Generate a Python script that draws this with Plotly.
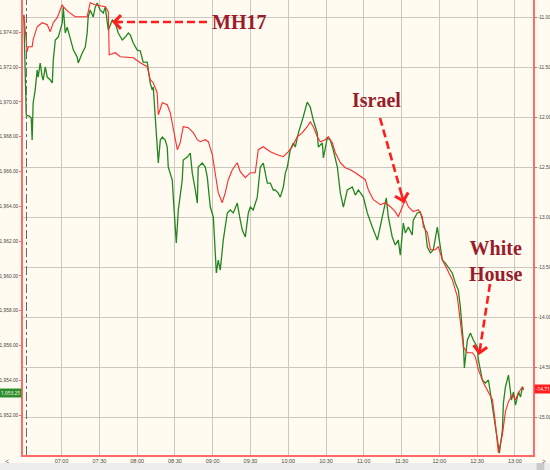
import pandas as pd
import plotly.graph_objects as go

# ---------------- data (minutes after 06:30, values) ----------------
green_minutes = [0, 1.9, 4.3, 5.9, 6.6, 7.4, 9.0, 10.6, 11.4, 13.0, 14.6, 15.4, 17.0, 18.6, 21.0, 22.6, 23.4, 25.0, 27.3, 28.9,
                 30.5, 31.3, 32.9, 34.4, 37.0, 39.4, 42.4, 43.2, 46.4, 48.8, 50.3, 51.1, 52.7, 55.1, 56.7, 58.3, 60.7, 63.1, 64.7, 66.3,
                 67.1, 70.3, 72.6, 75.0, 78.2, 80.6, 83.0, 84.6, 86.9, 90.1, 92.5, 94.8, 98.0, 100.4, 102.0, 102.8, 104.4, 106.8, 108.4, 110.0,
                 112.3, 113.9, 114.7, 116.3, 117.9, 118.7, 121.1, 122.7, 125.8, 126.6, 129.8, 132.2, 133.8, 136.2, 137.8, 138.5, 141.7, 144.1, 145.7, 148.1,
                 150.5, 152.9, 154.4, 156.0, 158.4, 161.6, 164.0, 166.4, 169.5, 171.9, 173.5, 175.9, 178.3, 179.9, 182.2, 185.4, 187.8, 190.2, 193.4, 195.8,
                 198.1, 199.7, 202.1, 203.7, 206.1, 207.7, 209.3, 211.6, 214.0, 215.6, 218.0, 221.2, 223.6, 225.1, 227.5, 229.9, 233.1, 233.9, 237.1, 237.9,
                 241.0, 243.4, 245.8, 249.0, 251.4, 253.8, 256.9, 260.9, 263.3, 265.7, 269.7, 272.8, 276.8, 280.8, 284.7, 287.9, 289.5, 292.6, 295.0, 297.4,
                 299.0, 300.6, 301.4, 303.0, 305.4, 308.5, 309.3, 312.5, 314.9, 317.3, 318.9, 320.5, 322.9, 325.2, 328.4, 330.0, 332.4, 334.8, 337.2, 340.3,
                 342.7, 345.1, 346.7, 348.3, 349.1, 349.9, 352.3, 354.7, 357.0, 360.2, 361.0, 364.2, 366.6, 369.0, 370.6, 373.0, 376.1, 377.7, 380.1, 380.9,
                 382.5, 384.1, 384.9, 387.3, 388.9, 390.5, 392.9, 394.5, 396.0, 396.8]
green_values = [1974.99, 1969.25, 1969.19, 1969.07, 1967.81, 1969.94, 1970.68, 1971.83, 1971.43, 1972.24, 1971.43, 1971.26, 1972.01, 1971.43, 1971.26, 1971.09, 1972.41, 1973.56, 1973.73, 1974.13,
                1974.53, 1975.45, 1973.96, 1974.30, 1973.56, 1972.98, 1972.58, 1972.24, 1972.81, 1973.16, 1973.96, 1974.88, 1975.28, 1974.88, 1975.45, 1975.68, 1975.28, 1975.11, 1975.45, 1974.71,
                1974.13, 1974.71, 1974.53, 1973.96, 1973.56, 1973.73, 1973.96, 1973.84, 1973.39, 1972.98, 1972.93, 1972.29, 1972.29, 1971.09, 1970.68, 1970.86, 1969.13, 1966.49, 1967.81, 1967.98,
                1967.81, 1967.41, 1966.26, 1965.91, 1965.51, 1964.53, 1961.89, 1963.79, 1965.51, 1966.66, 1966.83, 1967.06, 1965.91, 1964.94, 1964.19, 1966.26, 1966.49, 1966.26, 1965.68, 1963.96,
                1963.39, 1960.17, 1960.91, 1960.34, 1962.06, 1963.62, 1963.79, 1963.62, 1964.19, 1963.21, 1962.64, 1962.24, 1963.62, 1963.96, 1963.79, 1964.53, 1966.26, 1966.49, 1965.34, 1965.34,
                1964.94, 1964.94, 1964.76, 1964.53, 1965.11, 1965.91, 1966.26, 1967.24, 1967.64, 1967.41, 1968.21, 1968.96, 1969.53, 1969.99, 1969.71, 1968.96, 1968.21, 1967.41, 1967.64, 1966.78,
                1967.93, 1967.81, 1967.24, 1966.26, 1964.76, 1963.96, 1964.94, 1965.11, 1964.65, 1964.94, 1964.53, 1963.62, 1962.81, 1962.06, 1963.39, 1964.48, 1963.39, 1962.24, 1961.78, 1962.06,
                1961.20, 1962.64, 1963.04, 1962.47, 1962.81, 1962.35, 1963.21, 1963.62, 1963.67, 1963.04, 1962.64, 1961.66, 1961.32, 1961.49, 1962.81, 1962.06, 1960.91, 1960.74, 1960.51, 1960.17,
                1959.59, 1959.19, 1958.21, 1957.06, 1956.14, 1954.71, 1956.32, 1956.72, 1956.32, 1955.91, 1955.17, 1954.02, 1953.85, 1954.02, 1953.27, 1952.01, 1950.45, 1949.82, 1951.14, 1952.70,
                1953.62, 1954.02, 1954.30, 1952.87, 1953.33, 1952.58, 1953.33, 1953.04, 1953.62, 1953.45]

red_minutes = [0, 2.7, 3.5, 6.6, 7.4, 10.6, 14.6, 18.6, 21.0, 23.4, 26.5, 30.5, 31.3, 35.2, 40.8, 50.3, 52.7, 56.7, 64.7, 67.1,
               67.8, 72.6, 76.6, 86.9, 92.5, 98.0, 100.4, 102.8, 105.9, 106.8, 110.0, 113.9, 116.3, 118.7, 121.9, 124.2, 126.6, 130.6, 134.6, 137.8,
               140.1, 144.1, 146.5, 149.7, 152.1, 154.4, 157.6, 160.0, 162.4, 165.6, 169.5, 171.9, 175.9, 179.9, 183.8, 186.2, 190.2, 195.8, 201.3, 206.1,
               210.1, 213.2, 217.2, 221.2, 225.1, 227.5, 229.9, 233.1, 235.5, 239.5, 241.8, 245.0, 247.4, 251.4, 255.3, 259.3, 263.3, 267.3, 271.2, 273.6,
               277.6, 283.2, 287.1, 291.1, 295.0, 297.4, 300.6, 303.0, 305.4, 309.3, 313.3, 316.5, 317.3, 320.5, 322.9, 326.8, 329.2, 332.4, 336.4, 340.3,
               344.3, 346.7, 349.1, 352.3, 356.3, 358.6, 361.0, 365.0, 369.0, 372.2, 374.5, 376.1, 376.9, 380.1, 382.5, 384.9, 388.1, 390.5, 392.9, 396.0,
               396.8]
red_values = [-10.97, -11.34, -11.29, -11.29, -11.22, -11.09, -11.05, -11.07, -11.14, -11.05, -11.00, -10.87, -10.89, -10.94, -10.99, -10.99, -10.85, -10.87, -10.89, -10.94,
              -11.37, -11.35, -11.39, -11.40, -11.45, -11.49, -11.62, -11.65, -11.75, -11.97, -11.85, -11.87, -11.95, -12.12, -12.32, -12.25, -12.09, -12.10, -12.15, -12.22,
              -12.24, -12.22, -12.24, -12.37, -12.55, -12.75, -12.85, -12.75, -12.62, -12.52, -12.45, -12.54, -12.60, -12.55, -12.55, -12.32, -12.29, -12.34, -12.37, -12.39,
              -12.34, -12.29, -12.19, -12.15, -12.09, -12.04, -12.09, -12.19, -12.24, -12.22, -12.19, -12.25, -12.35, -12.45, -12.50, -12.52, -12.55, -12.59, -12.62, -12.72,
              -12.82, -12.87, -12.85, -12.89, -12.94, -12.99, -12.89, -12.82, -12.89, -12.94, -12.92, -12.99, -13.09, -13.15, -13.32, -13.32, -13.29, -13.42, -13.52, -13.62,
              -13.79, -14.02, -14.29, -14.35, -14.35, -14.39, -14.52, -14.65, -14.75, -14.82, -15.05, -15.29, -15.35, -15.17, -14.94, -14.84, -14.77, -14.82, -14.75, -14.69,
              -14.71]

left_ticks = [1952, 1954, 1956, 1958, 1960, 1962, 1964, 1966, 1968, 1970, 1972, 1974]
right_ticks = [-11.0, -11.5, -12.0, -12.5, -13.0, -13.5, -14.0, -14.5, -15.0]
x_tick_labels = ["07:00", "07:30", "08:00", "08:30", "09:00", "09:30", "10:00",
                 "10:30", "11:00", "11:30", "12:00", "12:30", "13:00"]
green_last_label = "1,953.25"
red_last_label = "-14.71"
events = ["MH17", "Israel", "White<br>House"]

assert len(green_minutes) == len(green_values), (len(green_minutes), len(green_values))
assert len(red_minutes) == len(red_values), (len(red_minutes), len(red_values))

# ---------------- styling ----------------
BG = "#fffbf0"
GREEN = "#23871f"
RED = "#ff2a2a"
FRAME = "#ff6b6b"
GRID = "#cbc8c0"
ANN = "#9b1b2b"
ARROW = "#ff1e1e"

base = pd.Timestamp("2014-07-17 06:30")
def to_time(mins):
    return [base + pd.Timedelta(minutes=m) for m in mins]

fig = go.Figure()
fig.add_trace(go.Scatter(x=to_time(green_minutes), y=green_values, mode="lines",
                         line=dict(color=GREEN, width=1.3), yaxis="y", hoverinfo="skip"))
fig.add_trace(go.Scatter(x=to_time(red_minutes), y=red_values, mode="lines",
                         line=dict(color=RED, width=1.1), yaxis="y2", hoverinfo="skip"))

xfont = dict(family="Liberation Sans, Arial", size=5.5, color="#444")
yfont = dict(family="Liberation Sans, Arial", size=4.8, color="#444")
xtickvals = [pd.Timestamp("2014-07-17 " + t) for t in x_tick_labels]

fig.update_layout(
    width=550, height=470,
    margin=dict(l=23, r=17, t=0, b=15, pad=0),
    paper_bgcolor=BG, plot_bgcolor=BG,
    showlegend=False,
    xaxis=dict(type="date", automargin=False,
               range=[base + pd.Timedelta(minutes=-0.66), base + pd.Timedelta(minutes=404.4)],
               tickvals=xtickvals, ticktext=x_tick_labels,
               showgrid=True, gridcolor=GRID, gridwidth=1,
               showline=True, linecolor=FRAME, linewidth=1.5,
               ticks="", tickfont=xfont, zeroline=False),
    yaxis=dict(range=[1949.71, 1975.86], tickvals=left_ticks, automargin=False,
               ticktext=[f"{v:,.2f}" for v in left_ticks],
               showgrid=False, showline=True, linecolor=FRAME, linewidth=1.5,
               ticks="outside", ticklen=2, tickcolor=FRAME, tickfont=yfont, zeroline=False),
    yaxis2=dict(range=[-15.373, -10.823], tickvals=right_ticks, automargin=False,
                ticktext=[f"{v:.2f}" for v in right_ticks],
                overlaying="y", side="right",
                showgrid=True, gridcolor=GRID, gridwidth=1,
                showline=True, linecolor=FRAME, linewidth=1.5,
                ticks="outside", ticklen=2, tickcolor="#888", tickfont=yfont, zeroline=False),
)

# dash-dot session line near the left edge
fig.add_shape(type="line", xref="x", yref="paper",
              x0=base + pd.Timedelta(minutes=2.1), x1=base + pd.Timedelta(minutes=2.1), y0=0, y1=1,
              line=dict(color="#666", width=1, dash="dashdot"))

# scrollbar strip at bottom
fig.add_shape(type="rect", xref="paper", yref="paper", x0=-0.05, x1=1.04, y0=-0.0176, y1=-0.04,
              fillcolor="#ededed", line=dict(width=0), layer="above")
fig.add_shape(type="rect", xref="paper", yref="paper", x0=1.007, x1=1.022, y0=-0.0176, y1=-0.04,
              fillcolor="#c9c9c9", line=dict(width=0), layer="above")
fig.add_annotation(text="&lt;", xref="paper", yref="paper", x=-0.04, y=-0.028, showarrow=False,
                   font=dict(size=7, color="#555"))
fig.add_annotation(text="&gt;", xref="paper", yref="paper", x=1.03, y=-0.028, showarrow=False,
                   font=dict(size=7, color="#555"))

# last-value tags
fig.add_annotation(text=green_last_label, xref="paper", yref="y", x=0, y=1953.25, xanchor="right",
                   xshift=-1, showarrow=False, bgcolor="#2e8f2a", font=dict(size=4.8, color="white"),
                   borderpad=1)
fig.add_annotation(text=red_last_label, xref="paper", yref="y2", x=1, y=-14.71, xanchor="left",
                   xshift=1, showarrow=False, bgcolor="#ff2020", font=dict(size=4.8, color="white"),
                   borderpad=1)

# event annotations: dashed shafts + arrowheads + labels
def px(xp):
    return (xp - 23) / 510.0
def py(yp):
    return 1 - yp / 455.0

arrows = [((207, 22), (112, 22)), ((380, 118), (404, 203)), ((490, 284), (479, 355))]
for (x0, y0), (x1, y1) in arrows:
    fig.add_shape(type="line", xref="paper", yref="paper", x0=px(x0), y0=py(y0), x1=px(x1), y1=py(y1),
                  line=dict(color=ARROW, width=2.6, dash="8px,4px"))
    dx, dy = x0 - x1, y0 - y1
    n = (dx * dx + dy * dy) ** 0.5
    fig.add_annotation(xref="paper", yref="paper", x=px(x1), y=py(y1), text="", showarrow=True,
                       ax=dx / n * 10, ay=dy / n * 10, arrowhead=4, arrowsize=1.1, arrowwidth=2.4,
                       arrowcolor=ARROW)

labelfont = dict(family="Liberation Serif, DejaVu Serif, serif", size=20, color=ANN)
for text, (cx, cy) in zip(events, [(239, 22), (376, 100), (495, 261)]):
    fig.add_annotation(text="<b>" + text + "</b>", xref="paper", yref="paper", x=px(cx), y=py(cy),
                       xanchor="center", yanchor="middle", showarrow=False, font=labelfont,
                       align="center")

fig.write_html("out.html", config={"displayModeBar": False})

# remove the browser's default page margin so the figure sits at the window origin
with open("out.html", "r", encoding="utf-8") as f:
    html = f.read()
html = html.replace("<head>", "<head><style>html,body{margin:0;padding:0;overflow:hidden;}</style>", 1)
with open("out.html", "w", encoding="utf-8") as f:
    f.write(html)
